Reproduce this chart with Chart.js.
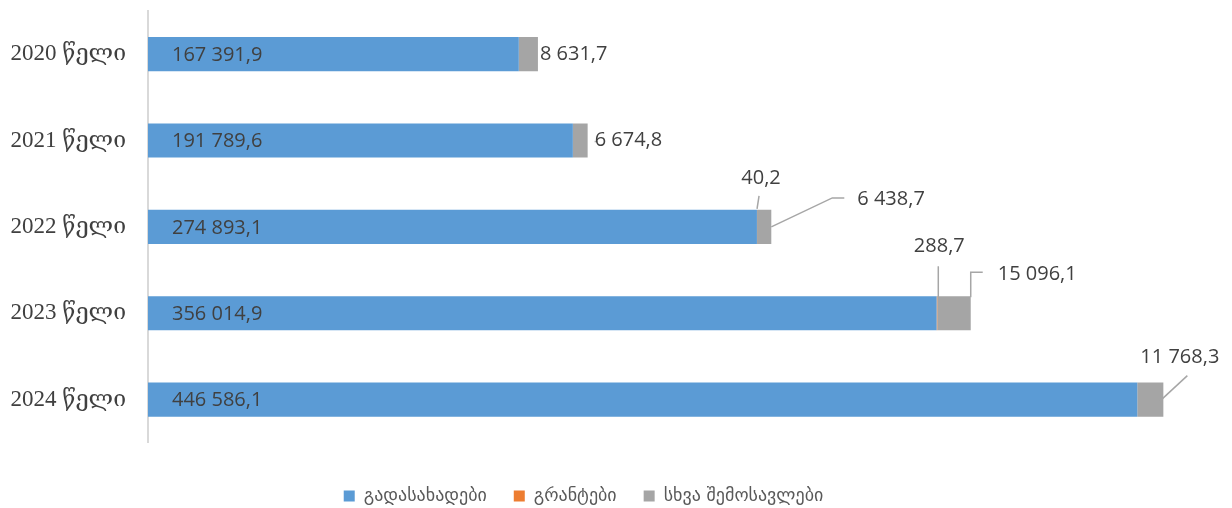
<!DOCTYPE html>
<html>
<head>
<meta charset="utf-8">
<script src="https://cdn.jsdelivr.net/npm/chart.js@4/dist/chart.umd.min.js"></script>
<style>
  html, body { margin: 0; padding: 0; background: #fff; }
  #wrap { width: 1232px; height: 508px; position: relative; }
</style>
</head>
<body>
<div id="wrap"><canvas id="chart"></canvas></div>
<script>
// years (categories) and series values
var years = ["2020 წელი", "2021 წელი", "2022 წელი", "2023 წელი", "2024 წელი"];
var taxes = [167391.9, 191789.6, 274893.1, 356014.9, 446586.1];
var grants = [null, null, 40.2, 288.7, null];
var otherIncome = [8631.7, 6674.8, 6438.7, 15096.1, 11768.3];
var seriesNames = ["გადასახადები", "გრანტები", "სხვა შემოსავლები"];

var labelFont = "20px 'Open Sans', 'DejaVu Sans', sans-serif";
var labelColor = "#404040";

function fmt(v) {
    var s = v.toFixed(1).split(".");
    return s[0].replace(/\B(?=(\d{3})+(?!\d))/g, " ") + "," + s[1];
}

// callout offsets for labels sitting outside the bars (dx, dy from bar end; leader points)
var grantCallouts = {
    2: { dx: 4, dy: -49, line: [[0, -18], [2, -31]] },
    3: { dx: 2, dy: -67, line: [[1, -16], [1, -47]] }
};
var otherCallouts = {
    0: { dx: 2, dy: 0 },
    1: { dx: 7, dy: 0, line: [[7, 1], [10, 1]] },
    2: { dx: 86, dy: -28, line: [[0, 0], [61, -29], [73, -29]] },
    3: { dx: 27, dy: -39, line: [[0, -16], [0, -41], [12, -41]] },
    4: { dx: -23, dy: -42, line: [[-3, 1], [24, -24]] }
};

var barLabels = {
    id: "barLabels",
    afterDatasetsDraw: function(chart) {
        var ctx = chart.ctx;
        ctx.save();
        ctx.font = labelFont;
        ctx.fillStyle = labelColor;
        ctx.textBaseline = "middle";

        // taxes: inside, near the base
        chart.getDatasetMeta(0).data.forEach(function(bar, i) {
            ctx.textAlign = "left";
            ctx.fillText(fmt(taxes[i]), bar.base + 24, bar.y + 1);
        });

        ctx.strokeStyle = "#a6a6a6";
        ctx.lineWidth = 1.5;

        function leader(x, y, pts) {
            if (!pts) return;
            ctx.beginPath();
            pts.forEach(function(p, k) {
                if (k === 0) ctx.moveTo(x + p[0], y + p[1]);
                else ctx.lineTo(x + p[0], y + p[1]);
            });
            ctx.stroke();
        }

        chart.getDatasetMeta(1).data.forEach(function(bar, i) {
            var c = grantCallouts[i];
            if (grants[i] == null || !c) return;
            leader(bar.x, bar.y, c.line);
            ctx.textAlign = "center";
            ctx.fillText(fmt(grants[i]), bar.x + c.dx, bar.y + c.dy);
        });

        chart.getDatasetMeta(2).data.forEach(function(bar, i) {
            var c = otherCallouts[i];
            leader(bar.x, bar.y, c.line);
            ctx.textAlign = "left";
            ctx.fillText(fmt(otherIncome[i]), bar.x + c.dx, bar.y + c.dy);
        });
        ctx.restore();
    }
};

var ctx = document.getElementById("chart").getContext("2d");
var chart = new Chart(ctx, {
    type: "bar",
    data: {
        labels: years,
        datasets: [
            { label: seriesNames[0], data: taxes, backgroundColor: "#5b9bd5" },
            { label: seriesNames[1], data: grants, backgroundColor: "#ed7d31" },
            { label: seriesNames[2], data: otherIncome, backgroundColor: "#a5a5a5" }
        ]
    },
    options: {
        indexAxis: "y",
        responsive: true,
        maintainAspectRatio: false,
        animation: false,
        barPercentage: 0.79,
        categoryPercentage: 0.5,
        layout: { padding: { top: 11, right: 65, bottom: -7, left: 0 } },
        scales: {
            x: {
                stacked: true,
                min: 0,
                max: 460000,
                display: false
            },
            y: {
                stacked: true,
                grid: { display: false, drawTicks: false },
                border: { display: true, color: "#d9d9d9", width: 2 },
                ticks: {
                    color: "#404040",
                    padding: 22,
                    font: { family: "'Liberation Serif', 'DejaVu Serif', serif", size: 23 }
                },
                afterFit: function(scale) {
                    scale.width = 148;
                    scale.paddingTop = 0;
                    scale.paddingBottom = 0;
                }
            }
        },
        plugins: {
            legend: {
                position: "bottom",
                title: { display: true, text: "", font: { size: 1 }, padding: { top: 16, bottom: 0 } },
                labels: {
                    boxWidth: 11,
                    boxHeight: 11,
                    padding: 27,
                    color: "#595959",
                    font: { family: "'DejaVu Sans', sans-serif", size: 18 }
                }
            },
            tooltip: { enabled: false }
        }
    },
    plugins: [barLabels]
});
</script>
</body>
</html>
